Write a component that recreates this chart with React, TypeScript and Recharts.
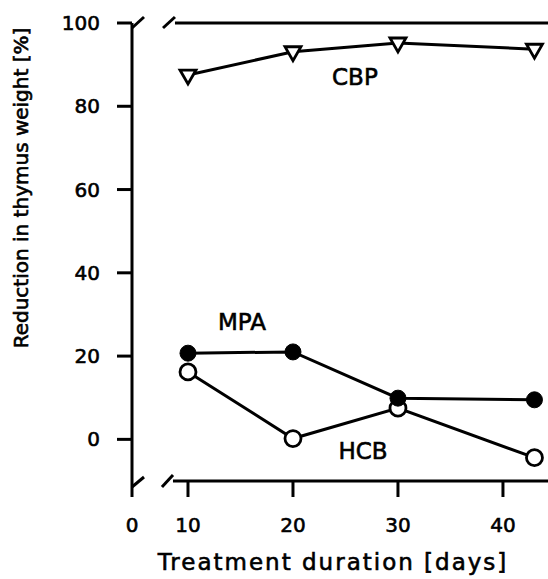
import React from "react";
import {
  LineChart,
  Line,
  XAxis,
  YAxis,
  ReferenceLine,
  ReferenceDot,
} from "recharts";

// treatment duration (days) and reduction in thymus weight (%)
const days = [10, 20, 30, 43];
const cbp = [87.5, 93.1, 95.2, 93.7];
const mpa = [20.7, 21.0, 9.9, 9.5];
const hcb = [16.2, 0.2, 7.5, -4.4];

const xTicks = [10, 20, 30, 40];
const yTicks = [0, 20, 40, 60, 80, 100];

// broken x axis: left edge of the plot stands for "0"
const X_MIN = 4.667;
const X_MAX = 44.29;
const Y_MIN = -10;
const Y_MAX = 100;

const data = days.map((d, i) => ({
  day: d,
  cbp: cbp[i],
  mpa: mpa[i],
  hcb: hcb[i],
}));

const INK = "#000";
const FONT = "DejaVu Sans";
const W = 3;

const Triangle = (props: any) => {
  const { cx, cy, index } = props;
  if (cx == null || cy == null) return null;
  return (
    <path
      key={`tri-${index}`}
      d={`M${cx - 8},${cy - 5} L${cx + 8},${cy - 5} L${cx},${cy + 9} Z`}
      fill="#fff"
      stroke={INK}
      strokeWidth={2.8}
    />
  );
};

const YLabel = () => (
  <text
    x={28}
    y={188}
    transform="rotate(-90, 28, 188)"
    textAnchor="middle"
    fontSize={20}
    fill={INK}
    fontFamily={FONT}
  >
    Reduction in thymus weight [%]
  </text>
);

const seriesLabel = (value: string) => ({
  value,
  position: "center" as const,
  fill: INK,
  fontSize: 23,
  fontFamily: FONT,
});

const breakLine = {
  stroke: INK,
  strokeWidth: W,
  ifOverflow: "visible" as const,
};

export default function App() {
  return (
    <div style={{ fontFamily: FONT }}>
      <style>{"body{margin:0} svg text{stroke:#000;stroke-width:0.6px}"}</style>
      <LineChart
        width={548}
        height={579}
        data={data}
        margin={{ top: 23, right: 0, bottom: 0, left: 0 }}
      >
        <XAxis
          type="number"
          dataKey="day"
          domain={[X_MIN, X_MAX]}
          ticks={[X_MIN, ...xTicks]}
          tickFormatter={(v: number) => (v < 10 ? "0" : String(v))}
          allowDataOverflow
          axisLine={false}
          tickLine={{ stroke: INK, strokeWidth: W }}
          tickSize={16}
          tickMargin={21}
          tick={{ fill: INK, fontSize: 20, fontFamily: FONT }}
          height={98}
          label={{
            value: "Treatment duration [days]",
            position: "insideBottom",
            offset: 9,
            dx: -7,
            fill: INK,
            fontSize: 23,
            fontFamily: FONT,
            letterSpacing: 2,
          }}
        />
        <YAxis
          type="number"
          domain={[Y_MIN, Y_MAX]}
          ticks={yTicks}
          allowDataOverflow
          width={132}
          axisLine={{ stroke: INK, strokeWidth: W }}
          tickLine={{ stroke: INK, strokeWidth: W }}
          tickSize={15}
          tickMargin={17}
          tick={{ fill: INK, fontSize: 20, fontFamily: FONT }}
          label={<YLabel />}
        />

        {/* frame pieces and axis break marks */}
        <ReferenceLine segment={[{ x: 8.57, y: Y_MIN }, { x: X_MAX, y: Y_MIN }]} {...breakLine} />
        <ReferenceLine segment={[{ x: 8.76, y: Y_MAX }, { x: X_MAX, y: Y_MAX }]} {...breakLine} />
        <ReferenceLine segment={[{ x: X_MIN, y: -11.44 }, { x: 5.81, y: -9.04 }]} {...breakLine} />
        <ReferenceLine segment={[{ x: 7.52, y: -11.44 }, { x: 8.57, y: -8.56 }]} {...breakLine} />
        <ReferenceLine segment={[{ x: X_MIN, y: 98.8 }, { x: 5.81, y: 101.44 }]} {...breakLine} />
        <ReferenceLine segment={[{ x: 7.62, y: 98.8 }, { x: 8.76, y: 101.44 }]} {...breakLine} />

        <Line
          dataKey="cbp"
          stroke={INK}
          strokeWidth={W}
          dot={Triangle}
          isAnimationActive={false}
        />
        <Line
          dataKey="hcb"
          stroke={INK}
          strokeWidth={W}
          dot={{ r: 8, fill: "#fff", stroke: INK, strokeWidth: 2.8 }}
          isAnimationActive={false}
        />
        <Line
          dataKey="mpa"
          stroke={INK}
          strokeWidth={W}
          dot={{ r: 8, fill: INK, stroke: INK, strokeWidth: 1 }}
          isAnimationActive={false}
        />

        <ReferenceDot x={25.9} y={87.0} r={1} fill="none" stroke="none" label={seriesLabel("CBP")} />
        <ReferenceDot x={15.14} y={28.2} r={1} fill="none" stroke="none" label={seriesLabel("MPA")} />
        <ReferenceDot x={26.67} y={-2.8} r={1} fill="none" stroke="none" label={seriesLabel("HCB")} />
      </LineChart>
    </div>
  );
}
